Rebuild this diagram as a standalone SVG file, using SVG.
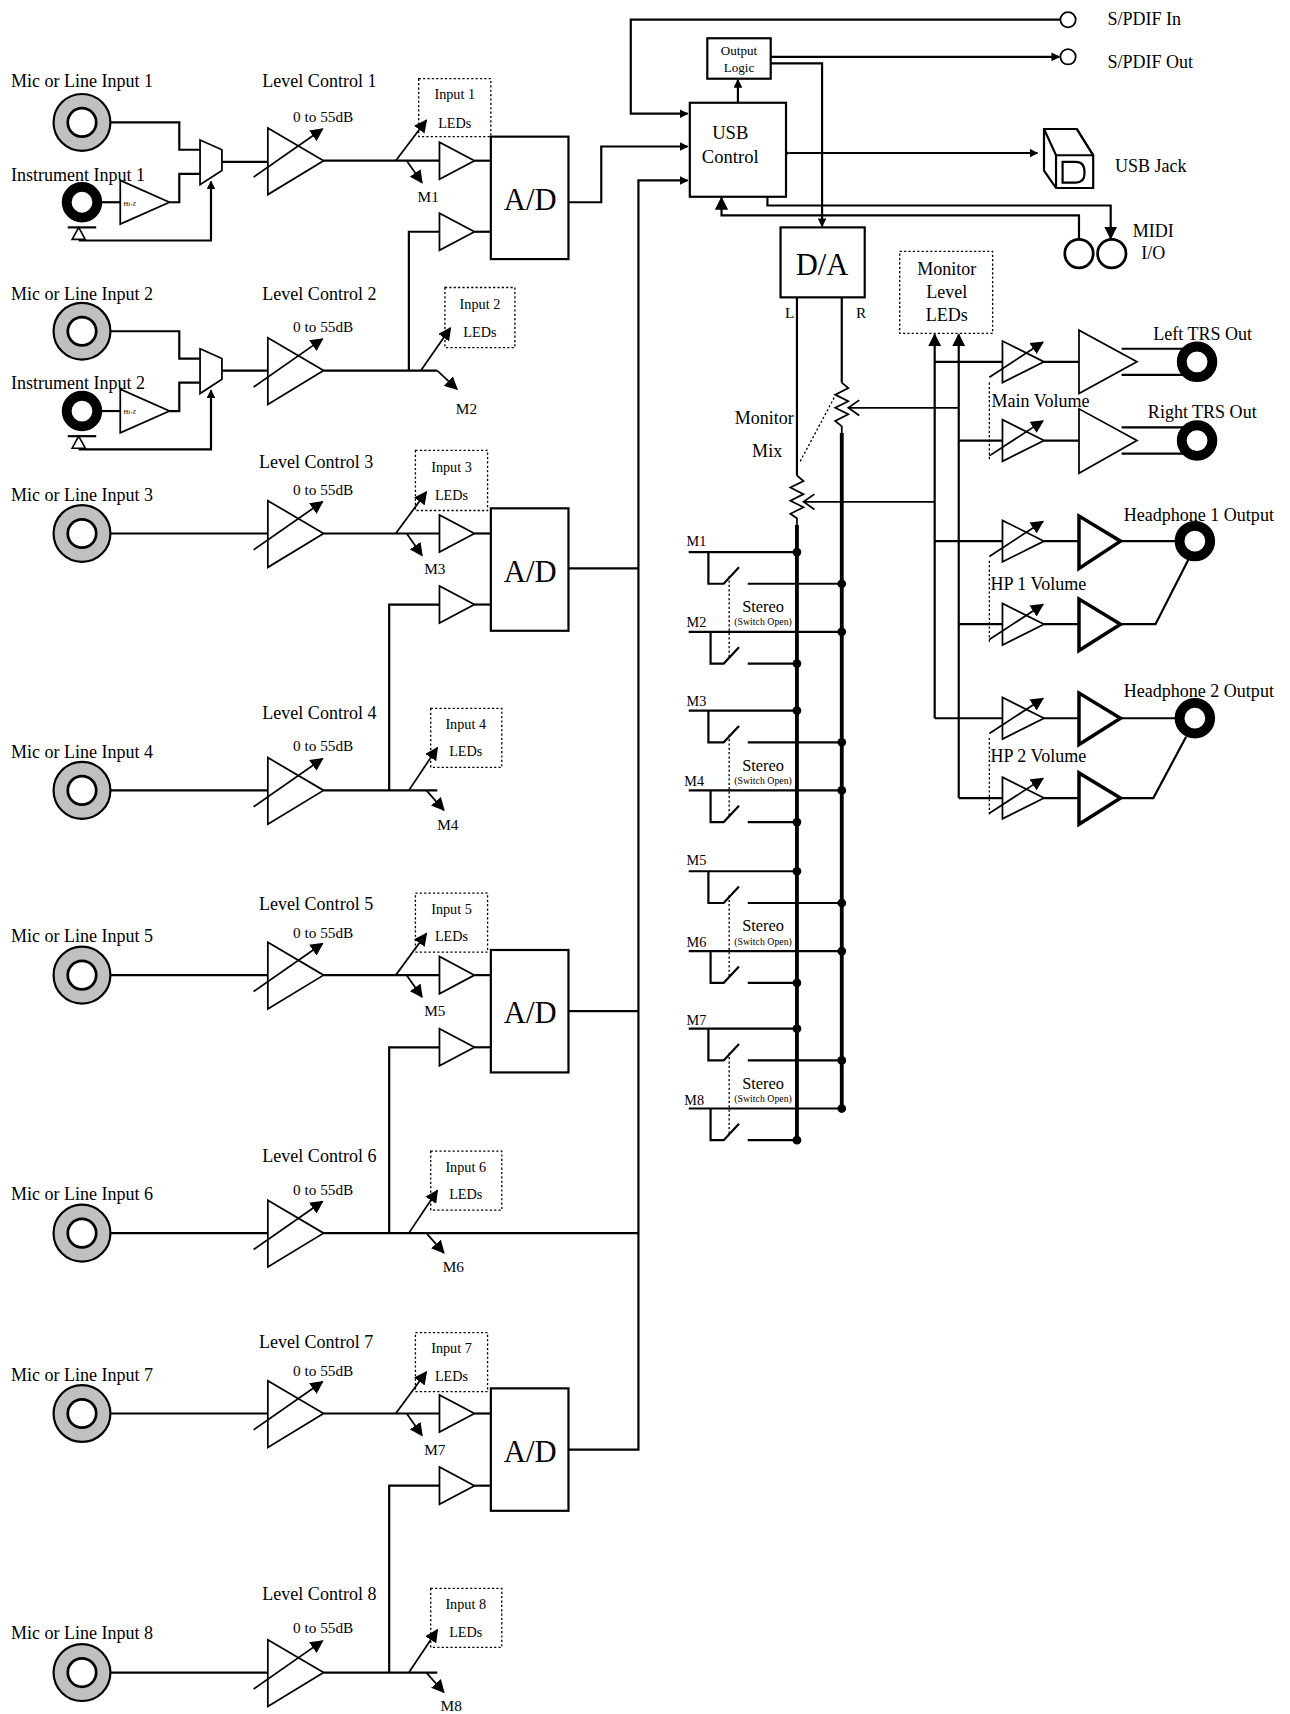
<svg xmlns="http://www.w3.org/2000/svg" xmlns:xlink="http://www.w3.org/1999/xlink" width="1290" height="1714" viewBox="0 0 1290 1714">
<style>
text{font-family:"Liberation Serif","Times New Roman",serif;fill:#000}
.t{font-size:16.5px}.s{font-size:14px}.xs{font-size:9px}.big{font-size:28px}
.w{fill:none;stroke:#000;stroke-width:2}
.tri{fill:#fff;stroke:#000;stroke-width:1.6}
.thk{fill:#fff;stroke:#000;stroke-width:3.2}
.dot{fill:none;stroke:#000;stroke-width:1.2;stroke-dasharray:2,2}
.bus{fill:none;stroke:#000;stroke-width:3.5}
</style>
<defs>
<marker id="ah" viewBox="0 0 10 10" refX="9" refY="5" markerWidth="8" markerHeight="8" markerUnits="userSpaceOnUse" orient="auto"><path d="M0,0 L10,5 L0,10 z" fill="#000"/></marker>
<marker id="ab" viewBox="0 0 10 10" refX="9" refY="5" markerWidth="12" markerHeight="12" markerUnits="userSpaceOnUse" orient="auto"><path d="M0,0 L10,5 L0,10 z" fill="#000"/></marker>
<g id="jg"><circle r="26" fill="#c0c0c0" stroke="#000" stroke-width="2"/><circle r="13" fill="#fff" stroke="#000" stroke-width="2.5"/></g>
<g id="jb"><circle r="14" fill="none" stroke="#000" stroke-width="9"/></g>
<g id="lvl"><polygon class="tri" points="0,-30 0,31 51,0"/><line x1="-13" y1="15" x2="50" y2="-29" stroke="#000" stroke-width="1.6" marker-end="url(#ab)"/></g>
<g id="sa"><polygon class="tri" points="0,-17 0,17 32,0"/></g>
<g id="va"><polygon class="tri" points="0,-19 0,19 38,0"/><line x1="-12" y1="14" x2="37" y2="-18" stroke="#000" stroke-width="1.6" marker-end="url(#ab)"/></g>
<g id="ad"><rect width="71" height="112" fill="#fff" stroke="#000" stroke-width="2"/><text x="36" y="67" text-anchor="middle" class="big">A/D</text></g>
<g id="fe">
<use xlink:href="#jg" x="75" y="112"/>
<use xlink:href="#jb" x="75" y="185"/>
<polygon class="tri" points="110,165 110,205 155,185"/>
<text x="113" y="188" style="font-size:6px">Hi-Z</text>
<line x1="62" y1="208" x2="88" y2="208" stroke="#000" stroke-width="2"/>
<polygon points="72,208 66,219 78,219" fill="#fff" stroke="#000" stroke-width="1.5"/>
<polyline class="w" points="101,112 164,112 164,137 183,137"/>
<polyline class="w" points="89,185 110,185"/>
<polyline class="w" points="155,185 164,185 164,159 183,159"/>
<polyline class="w" points="72,220 193,220 193,166" marker-end="url(#ah)"/>
<polygon class="tri" points="183,128 203,137 203,156 183,169"/>
<line class="w" x1="203" y1="148" x2="245" y2="148"/>
</g>
<g id="sw">
<polyline class="w" points="630,0 729,0"/>
<polyline class="w" points="648,0 648,29 662,29 676,14"/>
<polyline class="w" points="684,29 770,29"/>
<circle cx="729" cy="0" r="4"/><circle cx="770" cy="29" r="4"/>
<polyline class="w" points="630,73 770,73"/>
<polyline class="w" points="650,73 650,102 662,102 676,87"/>
<polyline class="w" points="684,102 729,102"/>
<circle cx="770" cy="73" r="4"/><circle cx="729" cy="102" r="4"/>
<line class="dot" x1="667" y1="22" x2="667" y2="96"/>
<text x="698" y="55" text-anchor="middle" style="font-size:15px">Stereo</text>
<text x="698" y="67" text-anchor="middle" class="xs">(Switch Open)</text>
</g>
</defs>
<g transform="scale(1.0932)">
<rect x="0" y="0" width="1180" height="1568" fill="#fff"/>

<g id="connectors">
<polyline class="w" points="296,147 402,147"/>
<polyline class="w" points="296,339 400,339"/>
<polyline class="w" points="374,339 374,212 402,212"/>
<polyline class="w" points="101,488 245,488"/><polyline class="w" points="296,488 402,488"/>
<polyline class="w" points="101,723 245,723"/><polyline class="w" points="296,723 400,723"/>
<polyline class="w" points="356,723 356,553 402,553"/>
<polyline class="w" points="101,892 245,892"/><polyline class="w" points="296,892 402,892"/>
<polyline class="w" points="101,1128 245,1128"/><polyline class="w" points="296,1128 584,1128"/>
<polyline class="w" points="356,1128 356,958 402,958"/>
<polyline class="w" points="101,1293 245,1293"/><polyline class="w" points="296,1293 402,1293"/>
<polyline class="w" points="101,1530 245,1530"/><polyline class="w" points="296,1530 400,1530"/>
<polyline class="w" points="356,1530 356,1359 402,1359"/>
<g class="w">
<line x1="434" y1="147" x2="449" y2="147"/><line x1="434" y1="212" x2="449" y2="212"/>
<line x1="434" y1="488" x2="449" y2="488"/><line x1="434" y1="553" x2="449" y2="553"/>
<line x1="434" y1="892" x2="449" y2="892"/><line x1="434" y1="958" x2="449" y2="958"/>
<line x1="434" y1="1293" x2="449" y2="1293"/><line x1="434" y1="1359" x2="449" y2="1359"/>
</g>
<g stroke="#000" stroke-width="1.6" fill="none">
<line x1="362" y1="147" x2="390" y2="110" marker-end="url(#ab)"/><line x1="372" y1="147" x2="386" y2="167" marker-end="url(#ab)"/>
<line x1="385" y1="339" x2="412" y2="300" marker-end="url(#ab)"/><line x1="400" y1="339" x2="418" y2="356" marker-end="url(#ab)"/>
<line x1="362" y1="488" x2="390" y2="450" marker-end="url(#ab)"/><line x1="372" y1="488" x2="386" y2="508" marker-end="url(#ab)"/>
<line x1="374" y1="723" x2="400" y2="684" marker-end="url(#ab)"/><line x1="390" y1="723" x2="406" y2="741" marker-end="url(#ab)"/>
<line x1="362" y1="892" x2="390" y2="854" marker-end="url(#ab)"/><line x1="372" y1="892" x2="386" y2="912" marker-end="url(#ab)"/>
<line x1="374" y1="1128" x2="400" y2="1089" marker-end="url(#ab)"/><line x1="390" y1="1128" x2="406" y2="1146" marker-end="url(#ab)"/>
<line x1="362" y1="1293" x2="390" y2="1255" marker-end="url(#ab)"/><line x1="372" y1="1293" x2="386" y2="1313" marker-end="url(#ab)"/>
<line x1="374" y1="1530" x2="400" y2="1491" marker-end="url(#ab)"/><line x1="390" y1="1530" x2="406" y2="1548" marker-end="url(#ab)"/>
</g>
<polyline class="w" points="520,185 550,185 550,134 629,134" marker-end="url(#ah)"/>
<polyline class="w" points="520,520 584,520"/>
<polyline class="w" points="520,925 584,925"/>
<polyline class="w" points="520,1326 584,1326 584,165 629,165" marker-end="url(#ah)"/>
<polyline class="w" points="970,18 577,18 577,104 629,104" marker-end="url(#ah)"/>
<line class="w" x1="675" y1="94" x2="675" y2="73" marker-end="url(#ah)"/>
<line class="w" x1="705" y1="52" x2="969" y2="52" marker-end="url(#ah)"/>
<polyline class="w" points="705,58 752,58 752,207" marker-end="url(#ah)"/>
<line class="w" x1="722" y1="140" x2="949" y2="140" marker-start="url(#ah)" marker-end="url(#ah)" style="stroke-width:1.8"/>
<polyline class="w" points="702,180 702,188 1016,188 1016,218" marker-end="url(#ab)"/>
<polyline class="w" points="987,219 987,197 660,197 660,181" marker-end="url(#ab)"/>
<polyline class="w" points="729,272 729,435"/>
<polyline class="w" points="770,272 770,350"/>
<polyline class="w" points="729,435 735,440 723,446 735,452 723,458 735,464 723,470 729,474 729,480" style="stroke-width:1.6"/>
<polyline class="w" points="770,350 776,355 764,361 776,367 764,373 776,379 764,385 770,390 770,396" style="stroke-width:1.6"/>
<line class="bus" x1="729" y1="480" x2="729" y2="1045"/>
<line class="bus" x1="770" y1="396" x2="770" y2="1015"/>
<line class="dot" x1="732" y1="422" x2="764" y2="362"/>
<polyline class="w" points="855,459 735,459" style="stroke-width:1.6"/><polyline class="w" points="745,452 735,459 745,466" style="stroke-width:1.6"/>
<polyline class="w" points="877,373 776,373" style="stroke-width:1.6"/><polyline class="w" points="786,366 776,373 786,380" style="stroke-width:1.6"/>
<polyline class="w" points="855,657 855,306" marker-end="url(#ab)"/>
<polyline class="w" points="877,730 877,306" marker-end="url(#ab)"/>
<g class="w">
<line x1="855" y1="331" x2="917" y2="331"/><line x1="877" y1="403" x2="917" y2="403"/>
<line x1="855" y1="495" x2="917" y2="495"/><line x1="877" y1="571" x2="917" y2="571"/>
<line x1="855" y1="657" x2="917" y2="657"/><line x1="877" y1="730" x2="917" y2="730"/>
<line x1="955" y1="331" x2="987" y2="331"/><line x1="955" y1="403" x2="987" y2="403"/>
<line x1="955" y1="495" x2="987" y2="495"/><line x1="955" y1="571" x2="987" y2="571"/>
<line x1="955" y1="657" x2="987" y2="657"/><line x1="955" y1="730" x2="987" y2="730"/>
<line x1="1026" y1="319" x2="1092" y2="319"/><line x1="1026" y1="343" x2="1092" y2="343"/>
<line x1="1026" y1="391" x2="1092" y2="391"/><line x1="1026" y1="415" x2="1092" y2="415"/>
<polyline points="1025,495 1078,495"/><polyline points="1025,571 1057,571 1087,512"/>
<polyline points="1025,657 1078,657"/><polyline points="1025,730 1055,730 1085,674"/>
</g>
<line class="dot" x1="905" y1="350" x2="905" y2="420"/>
<line class="dot" x1="905" y1="513" x2="905" y2="588"/>
<line class="dot" x1="905" y1="675" x2="905" y2="746"/>
</g>

<g id="ch1">
<use xlink:href="#fe"/>
<text x="10" y="80" class="t">Mic or Line Input 1</text><text x="10" y="166" class="t">Instrument Input 1</text>
<use xlink:href="#lvl" x="245" y="147"/>
<text x="240" y="80" class="t">Level Control 1</text><text x="268" y="112" class="s">0 to 55dB</text>
<rect x="383" y="72" width="66" height="53" class="dot"/><text x="416" y="91" text-anchor="middle" class="s" style="font-size:13px">Input 1</text><text x="416" y="117" text-anchor="middle" class="s" style="font-size:13px">LEDs</text>
<text x="382" y="185" class="s">M1</text>
</g>
<g id="ch2">
<use xlink:href="#fe" y="191"/>
<text x="10" y="274" class="t">Mic or Line Input 2</text><text x="10" y="356" class="t">Instrument Input 2</text>
<use xlink:href="#lvl" x="245" y="339"/>
<text x="240" y="274" class="t">Level Control 2</text><text x="268" y="304" class="s">0 to 55dB</text>
<rect x="407" y="263" width="64" height="55" class="dot"/><text x="439" y="283" text-anchor="middle" style="font-size:13px">Input 2</text><text x="439" y="308" text-anchor="middle" style="font-size:13px">LEDs</text>
<text x="417" y="379" class="s">M2</text>
</g>
<g id="ch3">
<use xlink:href="#jg" x="75" y="488"/>
<text x="10" y="458" class="t">Mic or Line Input 3</text>
<use xlink:href="#lvl" x="245" y="488"/>
<text x="237" y="428" class="t">Level Control 3</text><text x="268" y="453" class="s">0 to 55dB</text>
<rect x="380" y="412" width="66" height="55" class="dot"/><text x="413" y="432" text-anchor="middle" style="font-size:13px">Input 3</text><text x="413" y="457" text-anchor="middle" style="font-size:13px">LEDs</text>
<text x="388" y="525" class="s">M3</text>
</g>
<g id="ch4">
<use xlink:href="#jg" x="75" y="723"/>
<text x="10" y="693" class="t">Mic or Line Input 4</text>
<use xlink:href="#lvl" x="245" y="723"/>
<text x="240" y="658" class="t">Level Control 4</text><text x="268" y="687" class="s">0 to 55dB</text>
<rect x="394" y="648" width="65" height="54" class="dot"/><text x="426" y="667" text-anchor="middle" style="font-size:13px">Input 4</text><text x="426" y="692" text-anchor="middle" style="font-size:13px">LEDs</text>
<text x="400" y="759" class="s">M4</text>
</g>
<g id="ch5">
<use xlink:href="#jg" x="75" y="892"/>
<text x="10" y="862" class="t">Mic or Line Input 5</text>
<use xlink:href="#lvl" x="245" y="892"/>
<text x="237" y="832" class="t">Level Control 5</text><text x="268" y="858" class="s">0 to 55dB</text>
<rect x="380" y="817" width="66" height="54" class="dot"/><text x="413" y="836" text-anchor="middle" style="font-size:13px">Input 5</text><text x="413" y="861" text-anchor="middle" style="font-size:13px">LEDs</text>
<text x="388" y="929" class="s">M5</text>
</g>
<g id="ch6">
<use xlink:href="#jg" x="75" y="1128"/>
<text x="10" y="1098" class="t">Mic or Line Input 6</text>
<use xlink:href="#lvl" x="245" y="1128"/>
<text x="240" y="1063" class="t">Level Control 6</text><text x="268" y="1093" class="s">0 to 55dB</text>
<rect x="394" y="1053" width="65" height="54" class="dot"/><text x="426" y="1072" text-anchor="middle" style="font-size:13px">Input 6</text><text x="426" y="1097" text-anchor="middle" style="font-size:13px">LEDs</text>
<text x="405" y="1164" class="s">M6</text>
</g>
<g id="ch7">
<use xlink:href="#jg" x="75" y="1293"/>
<text x="10" y="1263" class="t">Mic or Line Input 7</text>
<use xlink:href="#lvl" x="245" y="1293"/>
<text x="237" y="1233" class="t">Level Control 7</text><text x="268" y="1259" class="s">0 to 55dB</text>
<rect x="380" y="1219" width="66" height="54" class="dot"/><text x="413" y="1238" text-anchor="middle" style="font-size:13px">Input 7</text><text x="413" y="1263" text-anchor="middle" style="font-size:13px">LEDs</text>
<text x="388" y="1331" class="s">M7</text>
</g>
<g id="ch8">
<use xlink:href="#jg" x="75" y="1530"/>
<text x="10" y="1499" class="t">Mic or Line Input 8</text>
<use xlink:href="#lvl" x="245" y="1530"/>
<text x="240" y="1464" class="t">Level Control 8</text><text x="268" y="1494" class="s">0 to 55dB</text>
<rect x="394" y="1453" width="65" height="54" class="dot"/><text x="426" y="1472" text-anchor="middle" style="font-size:13px">Input 8</text><text x="426" y="1497" text-anchor="middle" style="font-size:13px">LEDs</text>
<text x="403" y="1565" class="s">M8</text>
</g>

<g id="ad1"><use xlink:href="#sa" x="402" y="147"/><use xlink:href="#sa" x="402" y="212"/><use xlink:href="#ad" x="449" y="125"/></g>
<g id="ad2"><use xlink:href="#sa" x="402" y="488"/><use xlink:href="#sa" x="402" y="553"/><use xlink:href="#ad" x="449" y="465"/></g>
<g id="ad3"><use xlink:href="#sa" x="402" y="892"/><use xlink:href="#sa" x="402" y="958"/><use xlink:href="#ad" x="449" y="869"/></g>
<g id="ad4"><use xlink:href="#sa" x="402" y="1293"/><use xlink:href="#sa" x="402" y="1359"/><use xlink:href="#ad" x="449" y="1270"/></g>

<g id="usb"><rect x="631" y="94" width="88" height="86" fill="#fff" stroke="#000" stroke-width="2"/><text x="668" y="127" text-anchor="middle" style="font-size:17px">USB</text><text x="668" y="149" text-anchor="middle" style="font-size:17px">Control</text></g>
<g id="outlogic"><rect x="647" y="35" width="58" height="37" fill="#fff" stroke="#000" stroke-width="2"/><text x="676" y="50" text-anchor="middle" style="font-size:12px">Output</text><text x="676" y="66" text-anchor="middle" style="font-size:12px">Logic</text></g>
<g id="spdif"><circle cx="977" cy="18" r="7" fill="#fff" stroke="#000" stroke-width="1.6"/><text x="1013" y="23" class="t">S/PDIF In</text>
<circle cx="977" cy="52" r="7" fill="#fff" stroke="#000" stroke-width="1.6"/><text x="1013" y="62" class="t">S/PDIF Out</text></g>
<g id="usbjack" fill="none" stroke="#000" stroke-width="2">
<path d="M955,118 L985,118 L1000,142 L1000,172 L966,172 L955,156 Z" fill="#fff"/>
<polyline points="955,118 966,142 1000,142"/><line x1="966" y1="142" x2="966" y2="172"/><line x1="985" y1="118" x2="1000" y2="142"/>
<path d="M972,148 h12 q8,0 8,9 v2 q0,8 -8,8 h-12 z"/>
<text x="1020" y="157" class="t" stroke="none">USB Jack</text></g>
<g id="midi"><circle cx="987" cy="232" r="13" fill="#fff" stroke="#000" stroke-width="2.5"/><circle cx="1017" cy="232" r="13" fill="#fff" stroke="#000" stroke-width="2.5"/><text x="1055" y="217" text-anchor="middle" class="t">MIDI</text><text x="1055" y="237" text-anchor="middle" class="t">I/O</text></g>
<g id="da"><rect x="714" y="208" width="77" height="64" fill="#fff" stroke="#000" stroke-width="2"/><text x="752" y="252" text-anchor="middle" class="big">D/A</text><text x="718" y="291" class="s">L</text><text x="783" y="291" class="s">R</text></g>
<text x="672" y="388" class="t">Monitor</text><text x="688" y="418" class="t">Mix</text>
<g id="monleds"><rect x="823" y="230" width="85" height="75" class="dot"/><text x="866" y="252" text-anchor="middle" class="t">Monitor</text><text x="866" y="273" text-anchor="middle" class="t">Level</text><text x="866" y="294" text-anchor="middle" class="t">LEDs</text></g>

<g id="mixer">
<use xlink:href="#sw" y="505"/><use xlink:href="#sw" y="650"/><use xlink:href="#sw" y="797"/><use xlink:href="#sw" y="941"/>
<text x="628" y="499" class="s" style="font-size:13px">M1</text><text x="628" y="574" class="s" style="font-size:13px">M2</text><text x="628" y="646" class="s" style="font-size:13px">M3</text><text x="626" y="719" class="s" style="font-size:13px">M4</text>
<text x="628" y="791" class="s" style="font-size:13px">M5</text><text x="628" y="866" class="s" style="font-size:13px">M6</text><text x="628" y="938" class="s" style="font-size:13px">M7</text><text x="626" y="1011" class="s" style="font-size:13px">M8</text>
</g>

<g id="mainout">
<use xlink:href="#va" x="917" y="331"/><use xlink:href="#va" x="917" y="403"/>
<polygon class="tri" points="987,302 987,360 1040,331"/><polygon class="tri" points="987,374 987,433 1040,403"/>
<use xlink:href="#jb" x="1095" y="331"/><use xlink:href="#jb" x="1095" y="403"/>
<text x="1055" y="311" class="t">Left TRS Out</text><text x="1050" y="382" class="t">Right TRS Out</text>
<text x="907" y="372" class="t">Main Volume</text>
</g>
<g id="hp1">
<use xlink:href="#va" x="917" y="495"/><use xlink:href="#va" x="917" y="571"/>
<polygon class="thk" points="987,472 987,520 1025,495"/><polygon class="thk" points="987,548 987,595 1025,571"/>
<use xlink:href="#jb" x="1093" y="495"/>
<text x="1028" y="477" class="t">Headphone 1 Output</text><text x="906" y="540" class="t">HP 1 Volume</text>
</g>
<g id="hp2">
<use xlink:href="#va" x="917" y="657"/><use xlink:href="#va" x="917" y="730"/>
<polygon class="thk" points="987,634 987,681 1025,657"/><polygon class="thk" points="987,707 987,754 1025,730"/>
<use xlink:href="#jb" x="1093" y="657"/>
<text x="1028" y="638" class="t">Headphone 2 Output</text><text x="906" y="697" class="t">HP 2 Volume</text>
</g>
</g>
</svg>
